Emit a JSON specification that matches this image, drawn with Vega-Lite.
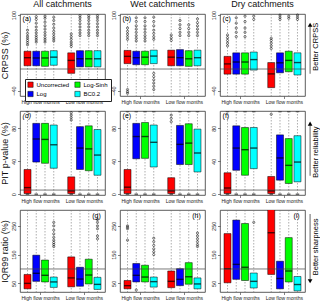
{
"$schema":"https://vega.github.io/schema/vega-lite/v6.json",
"padding":0,
"datasets":{
"b":[
{"m":"CRPSS","c":"All","f":"High","k":"Uncorrected","q1":6,"md":21,"q3":33},
{"m":"CRPSS","c":"All","f":"High","k":"Log","q1":6,"md":20.5,"q3":33},
{"m":"CRPSS","c":"All","f":"High","k":"Log-Sinh","q1":5,"md":20.5,"q3":33},
{"m":"CRPSS","c":"All","f":"High","k":"BC0.2","q1":7,"md":22,"q3":34},
{"m":"CRPSS","c":"All","f":"Low","k":"Uncorrected","q1":-8,"md":16,"q3":30},
{"m":"CRPSS","c":"All","f":"Low","k":"Log","q1":4,"md":19,"q3":34},
{"m":"CRPSS","c":"All","f":"Low","k":"Log-Sinh","q1":4,"md":19,"q3":34},
{"m":"CRPSS","c":"All","f":"Low","k":"BC0.2","q1":4,"md":19,"q3":34},
{"m":"CRPSS","c":"Wet","f":"High","k":"Uncorrected","q1":10,"md":23.5,"q3":34.5},
{"m":"CRPSS","c":"Wet","f":"High","k":"Log","q1":8,"md":21,"q3":33},
{"m":"CRPSS","c":"Wet","f":"High","k":"Log-Sinh","q1":8,"md":22,"q3":33},
{"m":"CRPSS","c":"Wet","f":"High","k":"BC0.2","q1":10,"md":24,"q3":35},
{"m":"CRPSS","c":"Wet","f":"Low","k":"Uncorrected","q1":6,"md":22,"q3":35},
{"m":"CRPSS","c":"Wet","f":"Low","k":"Log","q1":6,"md":21,"q3":36},
{"m":"CRPSS","c":"Wet","f":"Low","k":"Log-Sinh","q1":5,"md":19,"q3":34},
{"m":"CRPSS","c":"Wet","f":"Low","k":"BC0.2","q1":6,"md":21,"q3":35},
{"m":"CRPSS","c":"Dry","f":"High","k":"Uncorrected","q1":-9.5,"md":9.5,"q3":23.5},
{"m":"CRPSS","c":"Dry","f":"High","k":"Log","q1":-9.5,"md":13,"q3":30},
{"m":"CRPSS","c":"Dry","f":"High","k":"Log-Sinh","q1":-9.5,"md":13,"q3":30},
{"m":"CRPSS","c":"Dry","f":"High","k":"BC0.2","q1":-2,"md":17.5,"q3":31.5},
{"m":"CRPSS","c":"Dry","f":"Low","k":"Uncorrected","q1":-34.5,"md":-9,"q3":12},
{"m":"CRPSS","c":"Dry","f":"Low","k":"Log","q1":-7,"md":11.5,"q3":30},
{"m":"CRPSS","c":"Dry","f":"Low","k":"Log-Sinh","q1":-5,"md":16,"q3":33},
{"m":"CRPSS","c":"Dry","f":"Low","k":"BC0.2","q1":-11,"md":12,"q3":30},
{"m":"PIT","c":"All","f":"High","k":"Uncorrected","q1":0.8,"md":8,"q3":30,"lo":0,"hi":100},
{"m":"PIT","c":"All","f":"High","k":"Log","q1":39,"md":67,"q3":86,"lo":0,"hi":100},
{"m":"PIT","c":"All","f":"High","k":"Log-Sinh","q1":37.5,"md":66.5,"q3":86,"lo":0,"hi":100},
{"m":"PIT","c":"All","f":"High","k":"BC0.2","q1":31.5,"md":60,"q3":84,"lo":0,"hi":100},
{"m":"PIT","c":"All","f":"Low","k":"Uncorrected","q1":0.8,"md":4,"q3":21,"lo":0},
{"m":"PIT","c":"All","f":"Low","k":"Log","q1":30,"md":56,"q3":82,"lo":0,"hi":100},
{"m":"PIT","c":"All","f":"Low","k":"Log-Sinh","q1":28.5,"md":55,"q3":83,"lo":0,"hi":100},
{"m":"PIT","c":"All","f":"Low","k":"BC0.2","q1":23,"md":47.5,"q3":78.5,"lo":0,"hi":100},
{"m":"PIT","c":"Wet","f":"High","k":"Uncorrected","q1":0.8,"md":8.5,"q3":30,"lo":0,"hi":100},
{"m":"PIT","c":"Wet","f":"High","k":"Log","q1":43,"md":70,"q3":86,"lo":0,"hi":100},
{"m":"PIT","c":"Wet","f":"High","k":"Log-Sinh","q1":43.5,"md":70,"q3":87,"lo":0,"hi":100},
{"m":"PIT","c":"Wet","f":"High","k":"BC0.2","q1":33,"md":63,"q3":84,"lo":0,"hi":100},
{"m":"PIT","c":"Wet","f":"Low","k":"Uncorrected","q1":0.8,"md":4,"q3":20,"lo":0},
{"m":"PIT","c":"Wet","f":"Low","k":"Log","q1":36,"md":60.5,"q3":83.5,"lo":0,"hi":100},
{"m":"PIT","c":"Wet","f":"Low","k":"Log-Sinh","q1":36,"md":62,"q3":85.5,"lo":0,"hi":100},
{"m":"PIT","c":"Wet","f":"Low","k":"BC0.2","q1":27,"md":50,"q3":79,"lo":0,"hi":100},
{"m":"PIT","c":"Dry","f":"High","k":"Uncorrected","q1":0.8,"md":7.5,"q3":26,"lo":0,"hi":100},
{"m":"PIT","c":"Dry","f":"High","k":"Log","q1":29,"md":56,"q3":83,"lo":0,"hi":100},
{"m":"PIT","c":"Dry","f":"High","k":"Log-Sinh","q1":23,"md":54,"q3":81,"lo":0,"hi":100},
{"m":"PIT","c":"Dry","f":"High","k":"BC0.2","q1":31,"md":56,"q3":81,"lo":0,"hi":100},
{"m":"PIT","c":"Dry","f":"Low","k":"Uncorrected","q1":0.8,"md":4,"q3":21.5,"lo":0},
{"m":"PIT","c":"Dry","f":"Low","k":"Log","q1":17,"md":44,"q3":72,"lo":0,"hi":100},
{"m":"PIT","c":"Dry","f":"Low","k":"Log-Sinh","q1":13,"md":35,"q3":67.5,"lo":0,"hi":100},
{"m":"PIT","c":"Dry","f":"Low","k":"BC0.2","q1":15,"md":39,"q3":71,"lo":0,"hi":100},
{"m":"IQR","c":"All","f":"High","k":"Uncorrected","q1":31,"md":50,"q3":81},
{"m":"IQR","c":"All","f":"High","k":"Log","q1":57,"md":85,"q3":148},
{"m":"IQR","c":"All","f":"High","k":"Log-Sinh","q1":55,"md":78,"q3":131},
{"m":"IQR","c":"All","f":"High","k":"BC0.2","q1":36,"md":55,"q3":72},
{"m":"IQR","c":"All","f":"Low","k":"Uncorrected","q1":38,"md":69,"q3":142},
{"m":"IQR","c":"All","f":"Low","k":"Log","q1":40,"md":65,"q3":106},
{"m":"IQR","c":"All","f":"Low","k":"Log-Sinh","q1":48,"md":79,"q3":134},
{"m":"IQR","c":"All","f":"Low","k":"BC0.2","q1":29,"md":46.5,"q3":71},
{"m":"IQR","c":"Wet","f":"High","k":"Uncorrected","q1":31,"md":42,"q3":60},
{"m":"IQR","c":"Wet","f":"High","k":"Log","q1":55,"md":78,"q3":119},
{"m":"IQR","c":"Wet","f":"High","k":"Log-Sinh","q1":55,"md":72,"q3":113},
{"m":"IQR","c":"Wet","f":"High","k":"BC0.2","q1":37,"md":56,"q3":72},
{"m":"IQR","c":"Wet","f":"Low","k":"Uncorrected","q1":35,"md":57,"q3":93},
{"m":"IQR","c":"Wet","f":"Low","k":"Log","q1":42,"md":64,"q3":101},
{"m":"IQR","c":"Wet","f":"Low","k":"Log-Sinh","q1":47,"md":73,"q3":122},
{"m":"IQR","c":"Wet","f":"Low","k":"BC0.2","q1":31,"md":48,"q3":69},
{"m":"IQR","c":"Dry","f":"High","k":"Uncorrected","q1":52,"md":101,"q3":223},
{"m":"IQR","c":"Dry","f":"High","k":"Log","q1":64,"md":116,"q3":270},
{"m":"IQR","c":"Dry","f":"High","k":"Log-Sinh","q1":60,"md":106,"q3":258},
{"m":"IQR","c":"Dry","f":"High","k":"BC0.2","q1":34,"md":57,"q3":86},
{"m":"IQR","c":"Dry","f":"Low","k":"Uncorrected","q1":81,"md":226,"q3":320},
{"m":"IQR","c":"Dry","f":"Low","k":"Log","q1":31,"md":67,"q3":127},
{"m":"IQR","c":"Dry","f":"Low","k":"Log-Sinh","q1":55,"md":93,"q3":209},
{"m":"IQR","c":"Dry","f":"Low","k":"BC0.2","q1":24,"md":46,"q3":74}
],
"o":[
{"m":"CRPSS","c":"All","f":"High","k":"Uncorrected","v":45},{"m":"CRPSS","c":"All","f":"High","k":"Uncorrected","v":49},{"m":"CRPSS","c":"All","f":"High","k":"Uncorrected","v":53},{"m":"CRPSS","c":"All","f":"High","k":"Uncorrected","v":57},{"m":"CRPSS","c":"All","f":"High","k":"Uncorrected","v":61},{"m":"CRPSS","c":"All","f":"High","k":"Uncorrected","v":66},{"m":"CRPSS","c":"All","f":"High","k":"Uncorrected","v":72},
{"m":"CRPSS","c":"All","f":"High","k":"Log","v":50},{"m":"CRPSS","c":"All","f":"High","k":"Log","v":54},{"m":"CRPSS","c":"All","f":"High","k":"Log","v":58},{"m":"CRPSS","c":"All","f":"High","k":"Log","v":62},{"m":"CRPSS","c":"All","f":"High","k":"Log","v":67},{"m":"CRPSS","c":"All","f":"High","k":"Log","v":72},{"m":"CRPSS","c":"All","f":"High","k":"Log","v":78},{"m":"CRPSS","c":"All","f":"High","k":"Log","v":85},{"m":"CRPSS","c":"All","f":"High","k":"Log","v":92},{"m":"CRPSS","c":"All","f":"High","k":"Log","v":97},
{"m":"CRPSS","c":"All","f":"High","k":"Log-Sinh","v":50},{"m":"CRPSS","c":"All","f":"High","k":"Log-Sinh","v":54},{"m":"CRPSS","c":"All","f":"High","k":"Log-Sinh","v":58},{"m":"CRPSS","c":"All","f":"High","k":"Log-Sinh","v":63},{"m":"CRPSS","c":"All","f":"High","k":"Log-Sinh","v":68},{"m":"CRPSS","c":"All","f":"High","k":"Log-Sinh","v":74},{"m":"CRPSS","c":"All","f":"High","k":"Log-Sinh","v":80},{"m":"CRPSS","c":"All","f":"High","k":"Log-Sinh","v":87},{"m":"CRPSS","c":"All","f":"High","k":"Log-Sinh","v":94},{"m":"CRPSS","c":"All","f":"High","k":"Log-Sinh","v":98},
{"m":"CRPSS","c":"All","f":"High","k":"BC0.2","v":52},{"m":"CRPSS","c":"All","f":"High","k":"BC0.2","v":56},{"m":"CRPSS","c":"All","f":"High","k":"BC0.2","v":60},{"m":"CRPSS","c":"All","f":"High","k":"BC0.2","v":65},{"m":"CRPSS","c":"All","f":"High","k":"BC0.2","v":70},{"m":"CRPSS","c":"All","f":"High","k":"BC0.2","v":76},{"m":"CRPSS","c":"All","f":"High","k":"BC0.2","v":83},{"m":"CRPSS","c":"All","f":"High","k":"BC0.2","v":90},{"m":"CRPSS","c":"All","f":"High","k":"BC0.2","v":96},
{"m":"CRPSS","c":"All","f":"Low","k":"Uncorrected","v":42},{"m":"CRPSS","c":"All","f":"Low","k":"Uncorrected","v":46},{"m":"CRPSS","c":"All","f":"Low","k":"Uncorrected","v":50},{"m":"CRPSS","c":"All","f":"Low","k":"Uncorrected","v":55},{"m":"CRPSS","c":"All","f":"Low","k":"Uncorrected","v":60},{"m":"CRPSS","c":"All","f":"Low","k":"Uncorrected","v":65},
{"m":"CRPSS","c":"All","f":"Low","k":"Log","v":62},{"m":"CRPSS","c":"All","f":"Low","k":"Log","v":67},{"m":"CRPSS","c":"All","f":"Low","k":"Log","v":72},{"m":"CRPSS","c":"All","f":"Low","k":"Log","v":78},{"m":"CRPSS","c":"All","f":"Low","k":"Log","v":84},{"m":"CRPSS","c":"All","f":"Low","k":"Log","v":90},{"m":"CRPSS","c":"All","f":"Low","k":"Log","v":95},{"m":"CRPSS","c":"All","f":"Low","k":"Log","v":99},
{"m":"CRPSS","c":"All","f":"Low","k":"Log-Sinh","v":62},{"m":"CRPSS","c":"All","f":"Low","k":"Log-Sinh","v":67},{"m":"CRPSS","c":"All","f":"Low","k":"Log-Sinh","v":72},{"m":"CRPSS","c":"All","f":"Low","k":"Log-Sinh","v":78},{"m":"CRPSS","c":"All","f":"Low","k":"Log-Sinh","v":84},{"m":"CRPSS","c":"All","f":"Low","k":"Log-Sinh","v":90},{"m":"CRPSS","c":"All","f":"Low","k":"Log-Sinh","v":95},{"m":"CRPSS","c":"All","f":"Low","k":"Log-Sinh","v":99},
{"m":"CRPSS","c":"All","f":"Low","k":"BC0.2","v":62},{"m":"CRPSS","c":"All","f":"Low","k":"BC0.2","v":67},{"m":"CRPSS","c":"All","f":"Low","k":"BC0.2","v":72},{"m":"CRPSS","c":"All","f":"Low","k":"BC0.2","v":78},{"m":"CRPSS","c":"All","f":"Low","k":"BC0.2","v":84},{"m":"CRPSS","c":"All","f":"Low","k":"BC0.2","v":90},{"m":"CRPSS","c":"All","f":"Low","k":"BC0.2","v":95},{"m":"CRPSS","c":"All","f":"Low","k":"BC0.2","v":99},
{"m":"CRPSS","c":"Wet","f":"High","k":"Uncorrected","v":55},{"m":"CRPSS","c":"Wet","f":"High","k":"Uncorrected","v":60},{"m":"CRPSS","c":"Wet","f":"High","k":"Uncorrected","v":65},{"m":"CRPSS","c":"Wet","f":"High","k":"Uncorrected","v":70},{"m":"CRPSS","c":"Wet","f":"High","k":"Uncorrected","v":76},{"m":"CRPSS","c":"Wet","f":"High","k":"Uncorrected","v":-38},{"m":"CRPSS","c":"Wet","f":"High","k":"Uncorrected","v":-42},{"m":"CRPSS","c":"Wet","f":"High","k":"Uncorrected","v":-45},
{"m":"CRPSS","c":"Wet","f":"High","k":"Log","v":52},{"m":"CRPSS","c":"Wet","f":"High","k":"Log","v":57},{"m":"CRPSS","c":"Wet","f":"High","k":"Log","v":62},{"m":"CRPSS","c":"Wet","f":"High","k":"Log","v":68},{"m":"CRPSS","c":"Wet","f":"High","k":"Log","v":74},{"m":"CRPSS","c":"Wet","f":"High","k":"Log","v":80},{"m":"CRPSS","c":"Wet","f":"High","k":"Log","v":88},{"m":"CRPSS","c":"Wet","f":"High","k":"Log","v":95},
{"m":"CRPSS","c":"Wet","f":"High","k":"Log-Sinh","v":52},{"m":"CRPSS","c":"Wet","f":"High","k":"Log-Sinh","v":57},{"m":"CRPSS","c":"Wet","f":"High","k":"Log-Sinh","v":62},{"m":"CRPSS","c":"Wet","f":"High","k":"Log-Sinh","v":68},{"m":"CRPSS","c":"Wet","f":"High","k":"Log-Sinh","v":74},{"m":"CRPSS","c":"Wet","f":"High","k":"Log-Sinh","v":80},{"m":"CRPSS","c":"Wet","f":"High","k":"Log-Sinh","v":88},{"m":"CRPSS","c":"Wet","f":"High","k":"Log-Sinh","v":95},
{"m":"CRPSS","c":"Wet","f":"High","k":"BC0.2","v":55},{"m":"CRPSS","c":"Wet","f":"High","k":"BC0.2","v":60},{"m":"CRPSS","c":"Wet","f":"High","k":"BC0.2","v":66},{"m":"CRPSS","c":"Wet","f":"High","k":"BC0.2","v":72},{"m":"CRPSS","c":"Wet","f":"High","k":"BC0.2","v":80},{"m":"CRPSS","c":"Wet","f":"High","k":"BC0.2","v":88},{"m":"CRPSS","c":"Wet","f":"High","k":"BC0.2","v":96},{"m":"CRPSS","c":"Wet","f":"High","k":"BC0.2","v":-8},{"m":"CRPSS","c":"Wet","f":"High","k":"BC0.2","v":-14},{"m":"CRPSS","c":"Wet","f":"High","k":"BC0.2","v":-20},{"m":"CRPSS","c":"Wet","f":"High","k":"BC0.2","v":-26},{"m":"CRPSS","c":"Wet","f":"High","k":"BC0.2","v":-32},{"m":"CRPSS","c":"Wet","f":"High","k":"BC0.2","v":-38},
{"m":"CRPSS","c":"Wet","f":"Low","k":"Uncorrected","v":53},{"m":"CRPSS","c":"Wet","f":"Low","k":"Uncorrected","v":58},{"m":"CRPSS","c":"Wet","f":"Low","k":"Uncorrected","v":63},
{"m":"CRPSS","c":"Wet","f":"Low","k":"Log","v":62},{"m":"CRPSS","c":"Wet","f":"Low","k":"Log","v":68},{"m":"CRPSS","c":"Wet","f":"Low","k":"Log","v":75},{"m":"CRPSS","c":"Wet","f":"Low","k":"Log","v":82},{"m":"CRPSS","c":"Wet","f":"Low","k":"Log","v":90},
{"m":"CRPSS","c":"Wet","f":"Low","k":"Log-Sinh","v":62},{"m":"CRPSS","c":"Wet","f":"Low","k":"Log-Sinh","v":68},{"m":"CRPSS","c":"Wet","f":"Low","k":"Log-Sinh","v":75},{"m":"CRPSS","c":"Wet","f":"Low","k":"Log-Sinh","v":82},
{"m":"CRPSS","c":"Wet","f":"Low","k":"BC0.2","v":62},{"m":"CRPSS","c":"Wet","f":"Low","k":"BC0.2","v":68},{"m":"CRPSS","c":"Wet","f":"Low","k":"BC0.2","v":74},{"m":"CRPSS","c":"Wet","f":"Low","k":"BC0.2","v":80},{"m":"CRPSS","c":"Wet","f":"Low","k":"BC0.2","v":86},{"m":"CRPSS","c":"Wet","f":"Low","k":"BC0.2","v":93},
{"m":"CRPSS","c":"Dry","f":"High","k":"Uncorrected","v":43},{"m":"CRPSS","c":"Dry","f":"High","k":"Uncorrected","v":48},{"m":"CRPSS","c":"Dry","f":"High","k":"Uncorrected","v":53},{"m":"CRPSS","c":"Dry","f":"High","k":"Uncorrected","v":58},{"m":"CRPSS","c":"Dry","f":"High","k":"Uncorrected","v":63},
{"m":"CRPSS","c":"Dry","f":"High","k":"Log","v":60},{"m":"CRPSS","c":"Dry","f":"High","k":"Log","v":68},{"m":"CRPSS","c":"Dry","f":"High","k":"Log","v":76},{"m":"CRPSS","c":"Dry","f":"High","k":"Log","v":85},{"m":"CRPSS","c":"Dry","f":"High","k":"Log","v":95},
{"m":"CRPSS","c":"Dry","f":"High","k":"Log-Sinh","v":60},{"m":"CRPSS","c":"Dry","f":"High","k":"Log-Sinh","v":68},{"m":"CRPSS","c":"Dry","f":"High","k":"Log-Sinh","v":76},{"m":"CRPSS","c":"Dry","f":"High","k":"Log-Sinh","v":88},{"m":"CRPSS","c":"Dry","f":"High","k":"Log-Sinh","v":98},
{"m":"CRPSS","c":"Dry","f":"High","k":"BC0.2","v":92},{"m":"CRPSS","c":"Dry","f":"High","k":"BC0.2","v":98},
{"m":"CRPSS","c":"Dry","f":"Low","k":"Uncorrected","v":38},{"m":"CRPSS","c":"Dry","f":"Low","k":"Uncorrected","v":43},{"m":"CRPSS","c":"Dry","f":"Low","k":"Uncorrected","v":48},{"m":"CRPSS","c":"Dry","f":"Low","k":"Uncorrected","v":53},{"m":"CRPSS","c":"Dry","f":"Low","k":"Uncorrected","v":57},
{"m":"CRPSS","c":"Dry","f":"Low","k":"Log","v":92},{"m":"CRPSS","c":"Dry","f":"Low","k":"Log","v":96},{"m":"CRPSS","c":"Dry","f":"Low","k":"Log","v":100},
{"m":"CRPSS","c":"Dry","f":"Low","k":"Log-Sinh","v":94},{"m":"CRPSS","c":"Dry","f":"Low","k":"Log-Sinh","v":98},
{"m":"CRPSS","c":"Dry","f":"Low","k":"BC0.2","v":92},{"m":"CRPSS","c":"Dry","f":"Low","k":"BC0.2","v":96},{"m":"CRPSS","c":"Dry","f":"Low","k":"BC0.2","v":100},
{"m":"PIT","c":"All","f":"Low","k":"Uncorrected","v":90},{"m":"PIT","c":"All","f":"Low","k":"Uncorrected","v":93},{"m":"PIT","c":"All","f":"Low","k":"Uncorrected","v":96},{"m":"PIT","c":"All","f":"Low","k":"Uncorrected","v":99},
{"m":"PIT","c":"Wet","f":"Low","k":"Uncorrected","v":88},{"m":"PIT","c":"Wet","f":"Low","k":"Uncorrected","v":92},{"m":"PIT","c":"Wet","f":"Low","k":"Uncorrected","v":96},
{"m":"PIT","c":"Dry","f":"Low","k":"Uncorrected","v":97},
{"m":"IQR","c":"All","f":"High","k":"BC0.2","v":178},{"m":"IQR","c":"All","f":"High","k":"BC0.2","v":185},{"m":"IQR","c":"All","f":"High","k":"BC0.2","v":192},{"m":"IQR","c":"All","f":"High","k":"BC0.2","v":200},{"m":"IQR","c":"All","f":"High","k":"BC0.2","v":210},{"m":"IQR","c":"All","f":"High","k":"BC0.2","v":222},{"m":"IQR","c":"All","f":"High","k":"BC0.2","v":235},{"m":"IQR","c":"All","f":"High","k":"BC0.2","v":250},{"m":"IQR","c":"All","f":"High","k":"BC0.2","v":262},
{"m":"IQR","c":"All","f":"Low","k":"BC0.2","v":205},{"m":"IQR","c":"All","f":"Low","k":"BC0.2","v":215},{"m":"IQR","c":"All","f":"Low","k":"BC0.2","v":240},{"m":"IQR","c":"All","f":"Low","k":"BC0.2","v":250},{"m":"IQR","c":"All","f":"Low","k":"BC0.2","v":262},{"m":"IQR","c":"All","f":"Low","k":"BC0.2","v":272},
{"m":"IQR","c":"Wet","f":"High","k":"Uncorrected","v":200},{"m":"IQR","c":"Wet","f":"High","k":"Uncorrected","v":240},{"m":"IQR","c":"Wet","f":"High","k":"Uncorrected","v":245},{"m":"IQR","c":"Wet","f":"High","k":"Uncorrected","v":250},
{"m":"IQR","c":"Wet","f":"High","k":"Log","v":27},
{"m":"IQR","c":"Wet","f":"High","k":"BC0.2","v":150},{"m":"IQR","c":"Wet","f":"High","k":"BC0.2","v":160},{"m":"IQR","c":"Wet","f":"High","k":"BC0.2","v":170},{"m":"IQR","c":"Wet","f":"High","k":"BC0.2","v":182},{"m":"IQR","c":"Wet","f":"High","k":"BC0.2","v":195},{"m":"IQR","c":"Wet","f":"High","k":"BC0.2","v":207},
{"m":"IQR","c":"Wet","f":"Low","k":"BC0.2","v":178},{"m":"IQR","c":"Wet","f":"Low","k":"BC0.2","v":185},{"m":"IQR","c":"Wet","f":"Low","k":"BC0.2","v":195},{"m":"IQR","c":"Wet","f":"Low","k":"BC0.2","v":205},{"m":"IQR","c":"Wet","f":"Low","k":"BC0.2","v":215},{"m":"IQR","c":"Wet","f":"Low","k":"BC0.2","v":225},
{"m":"IQR","c":"Dry","f":"High","k":"BC0.2","v":262}
]
},
"spacing":5,
"vconcat":[
{"spacing":5,"hconcat":[
{"width":85,"height":82,"title":"All catchments","resolve":{"scale":{"x":"independent","y":"independent"}},
"layer":[
{"layer":[
{"data":{"name":"b"},"transform":[{"filter":"datum.m=='CRPSS' && datum.c=='All'"}],
"encoding":{"x":{"field":"f","type":"nominal","sort":["High","Low"],"scale":{"paddingInner":0.2,"paddingOuter":0.072},"axis":{"title":null,"labelExpr":"datum.label + ' flow months'","labelOverlap":false}},"xOffset":{"field":"k","type":"nominal","sort":["Uncorrected","Log","Log-Sinh","BC0.2"],"scale":{"paddingInner":0.2,"paddingOuter":0.1}}},
"layer":[
{"mark":{"type":"rule","strokeDash":[1.5,1.5],"color":"#777","strokeWidth":0.6},"encoding":{}},
{"mark":{"type":"bar","stroke":"black","strokeWidth":0.5,"clip":true},"encoding":{"y":{"field":"q3","type":"quantitative","title":"CRPSS (%)","scale":{"domain":[-50,102],"nice":false,"zero":false},"axis":{"values":[-40,-20,0,20,40,60,80,100]}},"y2":{"field":"q1"},"color":{"field":"k","type":"nominal","scale":{"domain":["Uncorrected","Log","Log-Sinh","BC0.2"],"range":["#ff0000","#0000ff","#00ff00","#00ffff"]},"legend":{"title":null}}}},
{"mark":{"type":"tick","color":"black","thickness":1.4,"size":7},"encoding":{"y":{"field":"md","type":"quantitative","title":"CRPSS (%)","scale":{"domain":[-50,102],"nice":false,"zero":false}}}}
]},
{"data":{"name":"o"},"transform":[{"filter":"datum.m=='CRPSS' && datum.c=='All'"}],"mark":{"type":"point","shape":"circle","filled":false,"size":5,"strokeWidth":0.5,"color":"black","opacity":1},
"encoding":{"x":{"field":"f","type":"nominal","sort":["High","Low"]},"xOffset":{"field":"k","type":"nominal","sort":["Uncorrected","Log","Log-Sinh","BC0.2"]},"y":{"field":"v","type":"quantitative","title":"CRPSS (%)","scale":{"domain":[-50,102],"nice":false,"zero":false}}}},
{"data":{"values":[{}]},"mark":{"type":"rule","color":"#444","strokeWidth":0.7},"encoding":{"y":{"datum":0,"type":"quantitative","title":"CRPSS (%)","scale":{"domain":[-50,102],"nice":false,"zero":false}}}}
]},
{"data":{"values":[{}]},"layer":[
{"mark":{"type":"text","text":"(a)","align":"left","baseline":"middle","fontSize":7},"encoding":{"x":{"datum":0.03,"type":"quantitative","scale":{"domain":[0,1],"nice":false,"zero":false},"axis":null},"y":{"datum":0.94,"type":"quantitative","scale":{"domain":[0,1],"nice":false,"zero":false},"axis":null}}}
]}
]},
{"width":85,"height":82,"title":"Wet catchments","resolve":{"scale":{"x":"independent","y":"independent"}},
"layer":[
{"layer":[
{"data":{"name":"b"},"transform":[{"filter":"datum.m=='CRPSS' && datum.c=='Wet'"}],
"encoding":{"x":{"field":"f","type":"nominal","sort":["High","Low"],"scale":{"paddingInner":0.2,"paddingOuter":0.072},"axis":{"title":null,"labelExpr":"datum.label + ' flow months'","labelOverlap":false}},"xOffset":{"field":"k","type":"nominal","sort":["Uncorrected","Log","Log-Sinh","BC0.2"],"scale":{"paddingInner":0.2,"paddingOuter":0.1}}},
"layer":[
{"mark":{"type":"rule","strokeDash":[1.5,1.5],"color":"#777","strokeWidth":0.6},"encoding":{}},
{"mark":{"type":"bar","stroke":"black","strokeWidth":0.5,"clip":true},"encoding":{"y":{"field":"q3","type":"quantitative","title":null,"scale":{"domain":[-50,102],"nice":false,"zero":false},"axis":{"values":[-40,-20,0,20,40,60,80,100]}},"y2":{"field":"q1"},"color":{"field":"k","type":"nominal","scale":{"domain":["Uncorrected","Log","Log-Sinh","BC0.2"],"range":["#ff0000","#0000ff","#00ff00","#00ffff"]},"legend":{"title":null}}}},
{"mark":{"type":"tick","color":"black","thickness":1.4,"size":7},"encoding":{"y":{"field":"md","type":"quantitative","title":null,"scale":{"domain":[-50,102],"nice":false,"zero":false}}}}
]},
{"data":{"name":"o"},"transform":[{"filter":"datum.m=='CRPSS' && datum.c=='Wet'"}],"mark":{"type":"point","shape":"circle","filled":false,"size":5,"strokeWidth":0.5,"color":"black","opacity":1},
"encoding":{"x":{"field":"f","type":"nominal","sort":["High","Low"]},"xOffset":{"field":"k","type":"nominal","sort":["Uncorrected","Log","Log-Sinh","BC0.2"]},"y":{"field":"v","type":"quantitative","title":null,"scale":{"domain":[-50,102],"nice":false,"zero":false}}}},
{"data":{"values":[{}]},"mark":{"type":"rule","color":"#444","strokeWidth":0.7},"encoding":{"y":{"datum":0,"type":"quantitative","title":null,"scale":{"domain":[-50,102],"nice":false,"zero":false}}}}
]},
{"data":{"values":[{}]},"layer":[
{"mark":{"type":"text","text":"(b)","align":"left","baseline":"middle","fontSize":7},"encoding":{"x":{"datum":0.03,"type":"quantitative","scale":{"domain":[0,1],"nice":false,"zero":false},"axis":null},"y":{"datum":0.94,"type":"quantitative","scale":{"domain":[0,1],"nice":false,"zero":false},"axis":null}}}
]}
]},
{"width":85,"height":82,"title":"Dry catchments","resolve":{"scale":{"x":"independent","y":"independent"}},
"layer":[
{"layer":[
{"data":{"name":"b"},"transform":[{"filter":"datum.m=='CRPSS' && datum.c=='Dry'"}],
"encoding":{"x":{"field":"f","type":"nominal","sort":["High","Low"],"scale":{"paddingInner":0.2,"paddingOuter":0.072},"axis":{"title":null,"labelExpr":"datum.label + ' flow months'","labelOverlap":false}},"xOffset":{"field":"k","type":"nominal","sort":["Uncorrected","Log","Log-Sinh","BC0.2"],"scale":{"paddingInner":0.2,"paddingOuter":0.1}}},
"layer":[
{"mark":{"type":"rule","strokeDash":[1.5,1.5],"color":"#777","strokeWidth":0.6},"encoding":{}},
{"mark":{"type":"bar","stroke":"black","strokeWidth":0.5,"clip":true},"encoding":{"y":{"field":"q3","type":"quantitative","title":null,"scale":{"domain":[-50,102],"nice":false,"zero":false},"axis":{"values":[-40,-20,0,20,40,60,80,100]}},"y2":{"field":"q1"},"color":{"field":"k","type":"nominal","scale":{"domain":["Uncorrected","Log","Log-Sinh","BC0.2"],"range":["#ff0000","#0000ff","#00ff00","#00ffff"]},"legend":{"title":null}}}},
{"mark":{"type":"tick","color":"black","thickness":1.4,"size":7},"encoding":{"y":{"field":"md","type":"quantitative","title":null,"scale":{"domain":[-50,102],"nice":false,"zero":false}}}}
]},
{"data":{"name":"o"},"transform":[{"filter":"datum.m=='CRPSS' && datum.c=='Dry'"}],"mark":{"type":"point","shape":"circle","filled":false,"size":5,"strokeWidth":0.5,"color":"black","opacity":1},
"encoding":{"x":{"field":"f","type":"nominal","sort":["High","Low"]},"xOffset":{"field":"k","type":"nominal","sort":["Uncorrected","Log","Log-Sinh","BC0.2"]},"y":{"field":"v","type":"quantitative","title":null,"scale":{"domain":[-50,102],"nice":false,"zero":false}}}},
{"data":{"values":[{}]},"mark":{"type":"rule","color":"#444","strokeWidth":0.7},"encoding":{"y":{"datum":0,"type":"quantitative","title":null,"scale":{"domain":[-50,102],"nice":false,"zero":false}}}}
]},
{"data":{"values":[{}]},"layer":[
{"mark":{"type":"text","text":"(c)","align":"left","baseline":"middle","fontSize":7},"encoding":{"x":{"datum":0.03,"type":"quantitative","scale":{"domain":[0,1],"nice":false,"zero":false},"axis":null},"y":{"datum":0.94,"type":"quantitative","scale":{"domain":[0,1],"nice":false,"zero":false},"axis":null}}},
{"mark":{"type":"rule","color":"#888","strokeWidth":1.3},"encoding":{"x":{"datum":1.06,"type":"quantitative","scale":{"domain":[0,1],"nice":false,"zero":false},"axis":null},"y":{"datum":0.27,"type":"quantitative","scale":{"domain":[0,1],"nice":false,"zero":false},"axis":null},"y2":{"datum":0.85}}},
{"mark":{"type":"point","shape":"triangle-up","filled":true,"color":"black","size":22,"opacity":1},"encoding":{"x":{"datum":1.06,"type":"quantitative","scale":{"domain":[0,1],"nice":false,"zero":false},"axis":null},"y":{"datum":0.87,"type":"quantitative","scale":{"domain":[0,1],"nice":false,"zero":false},"axis":null}}},
{"mark":{"type":"text","text":"Better CRPSS","angle":270,"align":"center","baseline":"middle","fontSize":7.5},"encoding":{"x":{"datum":1.13,"type":"quantitative","scale":{"domain":[0,1],"nice":false,"zero":false},"axis":null},"y":{"datum":0.6,"type":"quantitative","scale":{"domain":[0,1],"nice":false,"zero":false},"axis":null}}}
]}
]}
]},
{"spacing":5,"hconcat":[
{"width":85,"height":84,"resolve":{"scale":{"x":"independent","y":"independent"}},
"layer":[
{"layer":[
{"data":{"name":"b"},"transform":[{"filter":"datum.m=='PIT' && datum.c=='All'"}],
"encoding":{"x":{"field":"f","type":"nominal","sort":["High","Low"],"scale":{"paddingInner":0.2,"paddingOuter":0.072},"axis":{"title":null,"labelExpr":"datum.label + ' flow months'","labelOverlap":false}},"xOffset":{"field":"k","type":"nominal","sort":["Uncorrected","Log","Log-Sinh","BC0.2"],"scale":{"paddingInner":0.2,"paddingOuter":0.1}}},
"layer":[
{"mark":{"type":"rule","strokeDash":[1.5,1.5],"color":"#777","strokeWidth":0.6},"encoding":{}},
{"mark":{"type":"bar","stroke":"black","strokeWidth":0.5,"clip":true},"encoding":{"y":{"field":"q3","type":"quantitative","title":"PIT p-value (%)","scale":{"domain":[-1,101],"nice":false,"zero":false},"axis":{"values":[0,20,40,60,80,100]}},"y2":{"field":"q1"},"color":{"field":"k","type":"nominal","scale":{"domain":["Uncorrected","Log","Log-Sinh","BC0.2"],"range":["#ff0000","#0000ff","#00ff00","#00ffff"]},"legend":{"title":null}}}},
{"mark":{"type":"tick","color":"black","thickness":1.4,"size":7},"encoding":{"y":{"field":"md","type":"quantitative","title":"PIT p-value (%)","scale":{"domain":[-1,101],"nice":false,"zero":false}}}},
{"mark":{"type":"tick","color":"black","thickness":0.8,"size":3.5},"encoding":{"y":{"field":"hi","type":"quantitative","title":"PIT p-value (%)","scale":{"domain":[-1,101],"nice":false,"zero":false}}}},
{"mark":{"type":"tick","color":"black","thickness":1.2,"size":3.5},"encoding":{"y":{"field":"lo","type":"quantitative","title":"PIT p-value (%)","scale":{"domain":[-1,101],"nice":false,"zero":false}}}}
]},
{"data":{"name":"o"},"transform":[{"filter":"datum.m=='PIT' && datum.c=='All'"}],"mark":{"type":"point","shape":"circle","filled":false,"size":5,"strokeWidth":0.5,"color":"black","opacity":1},
"encoding":{"x":{"field":"f","type":"nominal","sort":["High","Low"]},"xOffset":{"field":"k","type":"nominal","sort":["Uncorrected","Log","Log-Sinh","BC0.2"]},"y":{"field":"v","type":"quantitative","title":"PIT p-value (%)","scale":{"domain":[-1,101],"nice":false,"zero":false}}}},
{"data":{"values":[{}]},"mark":{"type":"rule","color":"#444","strokeWidth":0.7},"encoding":{"y":{"datum":5,"type":"quantitative","title":"PIT p-value (%)","scale":{"domain":[-1,101],"nice":false,"zero":false}}}}
]},
{"data":{"values":[{}]},"layer":[
{"mark":{"type":"text","text":"(d)","align":"left","baseline":"middle","fontSize":7,"fontStyle":"italic"},"encoding":{"x":{"datum":0.03,"type":"quantitative","scale":{"domain":[0,1],"nice":false,"zero":false},"axis":null},"y":{"datum":0.94,"type":"quantitative","scale":{"domain":[0,1],"nice":false,"zero":false},"axis":null}}}
]}
]},
{"width":85,"height":84,"resolve":{"scale":{"x":"independent","y":"independent"}},
"layer":[
{"layer":[
{"data":{"name":"b"},"transform":[{"filter":"datum.m=='PIT' && datum.c=='Wet'"}],
"encoding":{"x":{"field":"f","type":"nominal","sort":["High","Low"],"scale":{"paddingInner":0.2,"paddingOuter":0.072},"axis":{"title":null,"labelExpr":"datum.label + ' flow months'","labelOverlap":false}},"xOffset":{"field":"k","type":"nominal","sort":["Uncorrected","Log","Log-Sinh","BC0.2"],"scale":{"paddingInner":0.2,"paddingOuter":0.1}}},
"layer":[
{"mark":{"type":"rule","strokeDash":[1.5,1.5],"color":"#777","strokeWidth":0.6},"encoding":{}},
{"mark":{"type":"bar","stroke":"black","strokeWidth":0.5,"clip":true},"encoding":{"y":{"field":"q3","type":"quantitative","title":null,"scale":{"domain":[-1,101],"nice":false,"zero":false},"axis":{"values":[0,20,40,60,80,100]}},"y2":{"field":"q1"},"color":{"field":"k","type":"nominal","scale":{"domain":["Uncorrected","Log","Log-Sinh","BC0.2"],"range":["#ff0000","#0000ff","#00ff00","#00ffff"]},"legend":{"title":null}}}},
{"mark":{"type":"tick","color":"black","thickness":1.4,"size":7},"encoding":{"y":{"field":"md","type":"quantitative","title":null,"scale":{"domain":[-1,101],"nice":false,"zero":false}}}},
{"mark":{"type":"tick","color":"black","thickness":0.8,"size":3.5},"encoding":{"y":{"field":"hi","type":"quantitative","title":null,"scale":{"domain":[-1,101],"nice":false,"zero":false}}}},
{"mark":{"type":"tick","color":"black","thickness":1.2,"size":3.5},"encoding":{"y":{"field":"lo","type":"quantitative","title":null,"scale":{"domain":[-1,101],"nice":false,"zero":false}}}}
]},
{"data":{"name":"o"},"transform":[{"filter":"datum.m=='PIT' && datum.c=='Wet'"}],"mark":{"type":"point","shape":"circle","filled":false,"size":5,"strokeWidth":0.5,"color":"black","opacity":1},
"encoding":{"x":{"field":"f","type":"nominal","sort":["High","Low"]},"xOffset":{"field":"k","type":"nominal","sort":["Uncorrected","Log","Log-Sinh","BC0.2"]},"y":{"field":"v","type":"quantitative","title":null,"scale":{"domain":[-1,101],"nice":false,"zero":false}}}},
{"data":{"values":[{}]},"mark":{"type":"rule","color":"#444","strokeWidth":0.7},"encoding":{"y":{"datum":5,"type":"quantitative","title":null,"scale":{"domain":[-1,101],"nice":false,"zero":false}}}}
]},
{"data":{"values":[{}]},"layer":[
{"mark":{"type":"text","text":"(e)","align":"left","baseline":"middle","fontSize":7},"encoding":{"x":{"datum":0.03,"type":"quantitative","scale":{"domain":[0,1],"nice":false,"zero":false},"axis":null},"y":{"datum":0.94,"type":"quantitative","scale":{"domain":[0,1],"nice":false,"zero":false},"axis":null}}}
]}
]},
{"width":85,"height":84,"resolve":{"scale":{"x":"independent","y":"independent"}},
"layer":[
{"layer":[
{"data":{"name":"b"},"transform":[{"filter":"datum.m=='PIT' && datum.c=='Dry'"}],
"encoding":{"x":{"field":"f","type":"nominal","sort":["High","Low"],"scale":{"paddingInner":0.2,"paddingOuter":0.072},"axis":{"title":null,"labelExpr":"datum.label + ' flow months'","labelOverlap":false}},"xOffset":{"field":"k","type":"nominal","sort":["Uncorrected","Log","Log-Sinh","BC0.2"],"scale":{"paddingInner":0.2,"paddingOuter":0.1}}},
"layer":[
{"mark":{"type":"rule","strokeDash":[1.5,1.5],"color":"#777","strokeWidth":0.6},"encoding":{}},
{"mark":{"type":"bar","stroke":"black","strokeWidth":0.5,"clip":true},"encoding":{"y":{"field":"q3","type":"quantitative","title":null,"scale":{"domain":[-1,101],"nice":false,"zero":false},"axis":{"values":[0,20,40,60,80,100]}},"y2":{"field":"q1"},"color":{"field":"k","type":"nominal","scale":{"domain":["Uncorrected","Log","Log-Sinh","BC0.2"],"range":["#ff0000","#0000ff","#00ff00","#00ffff"]},"legend":{"title":null}}}},
{"mark":{"type":"tick","color":"black","thickness":1.4,"size":7},"encoding":{"y":{"field":"md","type":"quantitative","title":null,"scale":{"domain":[-1,101],"nice":false,"zero":false}}}},
{"mark":{"type":"tick","color":"black","thickness":0.8,"size":3.5},"encoding":{"y":{"field":"hi","type":"quantitative","title":null,"scale":{"domain":[-1,101],"nice":false,"zero":false}}}},
{"mark":{"type":"tick","color":"black","thickness":1.2,"size":3.5},"encoding":{"y":{"field":"lo","type":"quantitative","title":null,"scale":{"domain":[-1,101],"nice":false,"zero":false}}}}
]},
{"data":{"name":"o"},"transform":[{"filter":"datum.m=='PIT' && datum.c=='Dry'"}],"mark":{"type":"point","shape":"circle","filled":false,"size":5,"strokeWidth":0.5,"color":"black","opacity":1},
"encoding":{"x":{"field":"f","type":"nominal","sort":["High","Low"]},"xOffset":{"field":"k","type":"nominal","sort":["Uncorrected","Log","Log-Sinh","BC0.2"]},"y":{"field":"v","type":"quantitative","title":null,"scale":{"domain":[-1,101],"nice":false,"zero":false}}}},
{"data":{"values":[{}]},"mark":{"type":"rule","color":"#444","strokeWidth":0.7},"encoding":{"y":{"datum":5,"type":"quantitative","title":null,"scale":{"domain":[-1,101],"nice":false,"zero":false}}}}
]},
{"data":{"values":[{}]},"layer":[
{"mark":{"type":"text","text":"(f)","align":"left","baseline":"middle","fontSize":7},"encoding":{"x":{"datum":0.03,"type":"quantitative","scale":{"domain":[0,1],"nice":false,"zero":false},"axis":null},"y":{"datum":0.94,"type":"quantitative","scale":{"domain":[0,1],"nice":false,"zero":false},"axis":null}}},
{"mark":{"type":"rule","color":"#888","strokeWidth":1.3},"encoding":{"x":{"datum":1.06,"type":"quantitative","scale":{"domain":[0,1],"nice":false,"zero":false},"axis":null},"y":{"datum":0.23,"type":"quantitative","scale":{"domain":[0,1],"nice":false,"zero":false},"axis":null},"y2":{"datum":0.83}}},
{"mark":{"type":"point","shape":"triangle-up","filled":true,"color":"black","size":22,"opacity":1},"encoding":{"x":{"datum":1.06,"type":"quantitative","scale":{"domain":[0,1],"nice":false,"zero":false},"axis":null},"y":{"datum":0.85,"type":"quantitative","scale":{"domain":[0,1],"nice":false,"zero":false},"axis":null}}},
{"mark":{"type":"text","text":"Better reliability","angle":270,"align":"center","baseline":"middle","fontSize":7.5},"encoding":{"x":{"datum":1.13,"type":"quantitative","scale":{"domain":[0,1],"nice":false,"zero":false},"axis":null},"y":{"datum":0.51,"type":"quantitative","scale":{"domain":[0,1],"nice":false,"zero":false},"axis":null}}}
]}
]}
]},
{"spacing":5,"hconcat":[
{"width":85,"height":82,"resolve":{"scale":{"x":"independent","y":"independent"}},
"layer":[
{"layer":[
{"data":{"name":"b"},"transform":[{"filter":"datum.m=='IQR' && datum.c=='All'"}],
"encoding":{"x":{"field":"f","type":"nominal","sort":["High","Low"],"scale":{"paddingInner":0.2,"paddingOuter":0.072},"axis":{"title":null,"labelExpr":"datum.label + ' flow months'","labelOverlap":false}},"xOffset":{"field":"k","type":"nominal","sort":["Uncorrected","Log","Log-Sinh","BC0.2"],"scale":{"paddingInner":0.2,"paddingOuter":0.1}}},
"layer":[
{"mark":{"type":"rule","strokeDash":[1.5,1.5],"color":"#777","strokeWidth":0.6},"encoding":{}},
{"mark":{"type":"bar","stroke":"black","strokeWidth":0.5,"clip":true},"encoding":{"y":{"field":"q3","type":"quantitative","title":"IQR99 ratio (%)","scale":{"domain":[20,305],"nice":false,"zero":false},"axis":{"values":[50,100,150,200,250,300]}},"y2":{"field":"q1"},"color":{"field":"k","type":"nominal","scale":{"domain":["Uncorrected","Log","Log-Sinh","BC0.2"],"range":["#ff0000","#0000ff","#00ff00","#00ffff"]},"legend":{"title":null}}}},
{"mark":{"type":"tick","color":"black","thickness":1.4,"size":7},"encoding":{"y":{"field":"md","type":"quantitative","title":"IQR99 ratio (%)","scale":{"domain":[20,305],"nice":false,"zero":false}}}}
]},
{"data":{"name":"o"},"transform":[{"filter":"datum.m=='IQR' && datum.c=='All'"}],"mark":{"type":"point","shape":"circle","filled":false,"size":5,"strokeWidth":0.5,"color":"black","opacity":1},
"encoding":{"x":{"field":"f","type":"nominal","sort":["High","Low"]},"xOffset":{"field":"k","type":"nominal","sort":["Uncorrected","Log","Log-Sinh","BC0.2"]},"y":{"field":"v","type":"quantitative","title":"IQR99 ratio (%)","scale":{"domain":[20,305],"nice":false,"zero":false}}}},
{"data":{"values":[{}]},"mark":{"type":"rule","color":"#444","strokeWidth":0.7},"encoding":{"y":{"datum":100,"type":"quantitative","title":"IQR99 ratio (%)","scale":{"domain":[20,305],"nice":false,"zero":false}}}}
]},
{"data":{"values":[{}]},"layer":[
{"mark":{"type":"text","text":"(g)","align":"center","baseline":"middle","fontSize":7},"encoding":{"x":{"datum":0.9,"type":"quantitative","scale":{"domain":[0,1],"nice":false,"zero":false},"axis":null},"y":{"datum":0.93,"type":"quantitative","scale":{"domain":[0,1],"nice":false,"zero":false},"axis":null}}}
]}
]},
{"width":85,"height":82,"resolve":{"scale":{"x":"independent","y":"independent"}},
"layer":[
{"layer":[
{"data":{"name":"b"},"transform":[{"filter":"datum.m=='IQR' && datum.c=='Wet'"}],
"encoding":{"x":{"field":"f","type":"nominal","sort":["High","Low"],"scale":{"paddingInner":0.2,"paddingOuter":0.072},"axis":{"title":null,"labelExpr":"datum.label + ' flow months'","labelOverlap":false}},"xOffset":{"field":"k","type":"nominal","sort":["Uncorrected","Log","Log-Sinh","BC0.2"],"scale":{"paddingInner":0.2,"paddingOuter":0.1}}},
"layer":[
{"mark":{"type":"rule","strokeDash":[1.5,1.5],"color":"#777","strokeWidth":0.6},"encoding":{}},
{"mark":{"type":"bar","stroke":"black","strokeWidth":0.5,"clip":true},"encoding":{"y":{"field":"q3","type":"quantitative","title":null,"scale":{"domain":[20,305],"nice":false,"zero":false},"axis":{"values":[50,100,150,200,250,300]}},"y2":{"field":"q1"},"color":{"field":"k","type":"nominal","scale":{"domain":["Uncorrected","Log","Log-Sinh","BC0.2"],"range":["#ff0000","#0000ff","#00ff00","#00ffff"]},"legend":{"title":null}}}},
{"mark":{"type":"tick","color":"black","thickness":1.4,"size":7},"encoding":{"y":{"field":"md","type":"quantitative","title":null,"scale":{"domain":[20,305],"nice":false,"zero":false}}}}
]},
{"data":{"name":"o"},"transform":[{"filter":"datum.m=='IQR' && datum.c=='Wet'"}],"mark":{"type":"point","shape":"circle","filled":false,"size":5,"strokeWidth":0.5,"color":"black","opacity":1},
"encoding":{"x":{"field":"f","type":"nominal","sort":["High","Low"]},"xOffset":{"field":"k","type":"nominal","sort":["Uncorrected","Log","Log-Sinh","BC0.2"]},"y":{"field":"v","type":"quantitative","title":null,"scale":{"domain":[20,305],"nice":false,"zero":false}}}},
{"data":{"values":[{}]},"mark":{"type":"rule","color":"#444","strokeWidth":0.7},"encoding":{"y":{"datum":100,"type":"quantitative","title":null,"scale":{"domain":[20,305],"nice":false,"zero":false}}}}
]},
{"data":{"values":[{}]},"layer":[
{"mark":{"type":"text","text":"(h)","align":"center","baseline":"middle","fontSize":7},"encoding":{"x":{"datum":0.9,"type":"quantitative","scale":{"domain":[0,1],"nice":false,"zero":false},"axis":null},"y":{"datum":0.93,"type":"quantitative","scale":{"domain":[0,1],"nice":false,"zero":false},"axis":null}}}
]}
]},
{"width":85,"height":82,"resolve":{"scale":{"x":"independent","y":"independent"}},
"layer":[
{"layer":[
{"data":{"name":"b"},"transform":[{"filter":"datum.m=='IQR' && datum.c=='Dry'"}],
"encoding":{"x":{"field":"f","type":"nominal","sort":["High","Low"],"scale":{"paddingInner":0.2,"paddingOuter":0.072},"axis":{"title":null,"labelExpr":"datum.label + ' flow months'","labelOverlap":false}},"xOffset":{"field":"k","type":"nominal","sort":["Uncorrected","Log","Log-Sinh","BC0.2"],"scale":{"paddingInner":0.2,"paddingOuter":0.1}}},
"layer":[
{"mark":{"type":"rule","strokeDash":[1.5,1.5],"color":"#777","strokeWidth":0.6},"encoding":{}},
{"mark":{"type":"bar","stroke":"black","strokeWidth":0.5,"clip":true},"encoding":{"y":{"field":"q3","type":"quantitative","title":null,"scale":{"domain":[20,305],"nice":false,"zero":false},"axis":{"values":[50,100,150,200,250,300]}},"y2":{"field":"q1"},"color":{"field":"k","type":"nominal","scale":{"domain":["Uncorrected","Log","Log-Sinh","BC0.2"],"range":["#ff0000","#0000ff","#00ff00","#00ffff"]},"legend":{"title":null}}}},
{"mark":{"type":"tick","color":"black","thickness":1.4,"size":7},"encoding":{"y":{"field":"md","type":"quantitative","title":null,"scale":{"domain":[20,305],"nice":false,"zero":false}}}}
]},
{"data":{"name":"o"},"transform":[{"filter":"datum.m=='IQR' && datum.c=='Dry'"}],"mark":{"type":"point","shape":"circle","filled":false,"size":5,"strokeWidth":0.5,"color":"black","opacity":1},
"encoding":{"x":{"field":"f","type":"nominal","sort":["High","Low"]},"xOffset":{"field":"k","type":"nominal","sort":["Uncorrected","Log","Log-Sinh","BC0.2"]},"y":{"field":"v","type":"quantitative","title":null,"scale":{"domain":[20,305],"nice":false,"zero":false}}}},
{"data":{"values":[{}]},"mark":{"type":"rule","color":"#444","strokeWidth":0.7},"encoding":{"y":{"datum":100,"type":"quantitative","title":null,"scale":{"domain":[20,305],"nice":false,"zero":false}}}}
]},
{"data":{"values":[{}]},"layer":[
{"mark":{"type":"text","text":"(i)","align":"center","baseline":"middle","fontSize":7},"encoding":{"x":{"datum":0.9,"type":"quantitative","scale":{"domain":[0,1],"nice":false,"zero":false},"axis":null},"y":{"datum":0.93,"type":"quantitative","scale":{"domain":[0,1],"nice":false,"zero":false},"axis":null}}},
{"mark":{"type":"rule","color":"#888","strokeWidth":1.3},"encoding":{"x":{"datum":1.06,"type":"quantitative","scale":{"domain":[0,1],"nice":false,"zero":false},"axis":null},"y":{"datum":0.15,"type":"quantitative","scale":{"domain":[0,1],"nice":false,"zero":false},"axis":null},"y2":{"datum":0.95}}},
{"mark":{"type":"point","shape":"triangle-down","filled":true,"color":"black","size":22,"opacity":1},"encoding":{"x":{"datum":1.06,"type":"quantitative","scale":{"domain":[0,1],"nice":false,"zero":false},"axis":null},"y":{"datum":0.13,"type":"quantitative","scale":{"domain":[0,1],"nice":false,"zero":false},"axis":null}}},
{"mark":{"type":"text","text":"Better sharpness","angle":270,"align":"center","baseline":"middle","fontSize":7.5},"encoding":{"x":{"datum":1.13,"type":"quantitative","scale":{"domain":[0,1],"nice":false,"zero":false},"axis":null},"y":{"datum":0.55,"type":"quantitative","scale":{"domain":[0,1],"nice":false,"zero":false},"axis":null}}}
]}
]}
]}
],
"config":{
"font":"Liberation Sans",
"view":{"stroke":"#333","strokeWidth":0.8},
"axis":{"grid":false,"domain":false,"labelColor":"#222","tickColor":"#333","tickSize":2.5,"tickWidth":0.6,"labelPadding":1,"titleFontSize":9,"titleFontWeight":"normal","titleColor":"#111"},
"axisY":{"labelAngle":270,"labelAlign":"center","labelBaseline":"bottom","labelFontSize":5.5,"titlePadding":2},
"axisX":{"labelAngle":0,"labelFontSize":5},
"title":{"fontSize":9,"fontWeight":"normal","offset":1,"color":"#111"},
"legend":{"orient":"none","legendX":5,"legendY":65,"columns":2,"symbolType":"square","symbolSize":28,"symbolStrokeColor":"black","symbolStrokeWidth":0.5,"labelFontSize":6,"strokeColor":"#222","fillColor":"white","padding":2.5,"rowPadding":1.5,"columnPadding":4,"labelOffset":3,"labelLimit":80}
}
}
